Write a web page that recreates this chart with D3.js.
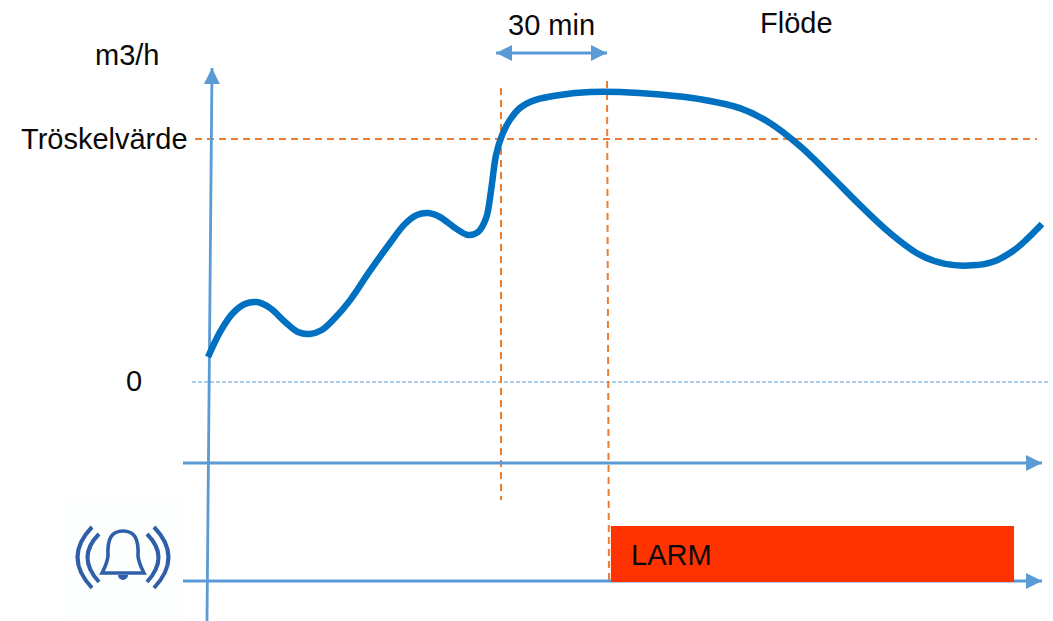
<!DOCTYPE html>
<html>
<head>
<meta charset="utf-8">
<title>Flöde</title>
<script src="https://cdn.jsdelivr.net/npm/d3@7"></script>
<style>
  html, body { margin: 0; padding: 0; background: #fff; }
  svg { display: block; }
  text { font-family: "Liberation Sans", Arial, sans-serif; font-size: 29px; fill: #0a0a0a; }
</style>
</head>
<body>
<div id="chart"></div>
<script>
// minutes relative to the start of the 30 min window, and flow where threshold = 100
var minutes = [-82.9, -79.5, -76.1, -72.5, -69.1, -65.4, -61.1, -57.5, -54.1, -50.7, -47, -42.7, -37.1, -31.4, -27.2, -23.8, -20.7, -17.3, -13, -9.3, -6.5, -4.2, -2.8, -1.4, 0.3, 2.5, 5.4, 9.6, 16.7, 25.2, 33.7, 45, 56.3, 67.6, 76.1, 84.6, 93.1, 101.6, 110.1, 118.6, 125.7, 133.5, 139.5, 145, 149, 153.1];
var flow = [10.3, 20.6, 28, 32.1, 32.9, 30.5, 24.7, 20.6, 19.8, 21.4, 26.3, 33.7, 45.7, 57.2, 65, 68.7, 69.5, 67.9, 63.4, 60.5, 61.7, 67.5, 79, 93.4, 101.6, 107.8, 112.8, 116, 118.1, 119.3, 119.3, 118.3, 116.4, 112.7, 106.6, 97.1, 85.2, 72.8, 61.3, 52.3, 48.6, 48, 49.6, 54, 59, 65];
var threshold = 100;
var zeroLevel = 0;
var windowMinutes = [0, 30];
var alarmWindow = [31.1, 145.2];
var labelFlow = "Flöde", labelUnit = "m3/h", labelThreshold = "Tröskelvärde", labelZero = "0", labelWindow = "30 min", labelAlarm = "LARM";

var width = 1053, height = 621;
var x = d3.scaleLinear().domain([0, 30]).range([501, 607]);
var y = d3.scaleLinear().domain([0, 100]).range([382, 139]);

var blue = "#5b9bd5", orange = "#ed7d31", curve = "#0070c0", red = "#ff3300", bellBlue = "#2f5fa8";

var svg = d3.select("#chart").append("svg")
    .attr("width", width)
    .attr("height", height);

// arrow heads
var defs = svg.append("defs");
function arrow(id, orient) {
  defs.append("marker")
      .attr("id", id)
      .attr("markerUnits", "userSpaceOnUse")
      .attr("viewBox", "0 0 16 16")
      .attr("markerWidth", 16).attr("markerHeight", 16)
      .attr("refX", 16).attr("refY", 8)
      .attr("orient", orient)
    .append("path")
      .attr("d", "M0,0L16,8L0,16Z")
      .attr("fill", blue);
}
arrow("head", "auto");
arrow("headStart", "auto-start-reverse");

// threshold and zero lines
svg.append("line")
    .attr("x1", 195).attr("x2", 1037)
    .attr("y1", y(threshold)).attr("y2", y(threshold))
    .attr("stroke", orange).attr("stroke-width", 2)
    .attr("stroke-dasharray", "7 5");
svg.append("line")
    .attr("x1", 192).attr("x2", 1050)
    .attr("y1", y(zeroLevel)).attr("y2", y(zeroLevel))
    .attr("stroke", blue).attr("stroke-width", 1.2)
    .attr("stroke-dasharray", "4 2");

// window markers
svg.append("line")
    .attr("x1", x(windowMinutes[0])).attr("x2", x(windowMinutes[0]))
    .attr("y1", 88).attr("y2", 500)
    .attr("stroke", orange).attr("stroke-width", 2)
    .attr("stroke-dasharray", "7 5");
svg.append("line")
    .attr("x1", x(windowMinutes[1])).attr("x2", x(windowMinutes[1]) + 2)
    .attr("y1", 81).attr("y2", 582)
    .attr("stroke", orange).attr("stroke-width", 2)
    .attr("stroke-dasharray", "7 5");

// axes, under the alarm bar
svg.append("line")
    .attr("x1", 207).attr("y1", 621).attr("x2", 212).attr("y2", 68)
    .attr("stroke", blue).attr("stroke-width", 2.8)
    .attr("marker-end", "url(#head)");
[463, 581].forEach(function(py) {
  svg.append("line")
      .attr("x1", 183).attr("y1", py).attr("x2", 1042).attr("y2", py)
      .attr("stroke", blue).attr("stroke-width", 2.8)
      .attr("marker-end", "url(#head)");
});

// alarm bar
svg.append("rect")
    .attr("x", x(alarmWindow[0]))
    .attr("y", 526)
    .attr("width", x(alarmWindow[1]) - x(alarmWindow[0]))
    .attr("height", 56)
    .attr("fill", red);

// 30 min arrow
svg.append("line")
    .attr("x1", x(windowMinutes[0]) - 5).attr("y1", 53)
    .attr("x2", x(windowMinutes[1])).attr("y2", 53)
    .attr("stroke", blue).attr("stroke-width", 2.8)
    .attr("marker-start", "url(#headStart)")
    .attr("marker-end", "url(#head)");

// the flow curve
var line = d3.line()
    .x(function(d) { return x(d[0]); })
    .y(function(d) { return y(d[1]); })
    .curve(d3.curveCatmullRom.alpha(0.5));
svg.append("path")
    .datum(d3.zip(minutes, flow))
    .attr("d", line)
    .attr("fill", "none")
    .attr("stroke", curve)
    .attr("stroke-width", 6.5);

// texts
function label(t, px, py) {
  svg.append("text").attr("x", px).attr("y", py).text(t);
}
label(labelWindow, 508, 35);
label(labelFlow, 760, 33);
label(labelUnit, 95, 65);
label(labelThreshold, 21, 149);
label(labelZero, 126, 391);
label(labelAlarm, 631, 565);

// bell icon
var bell = svg.append("g");
bell.append("rect")
    .attr("x", 63).attr("y", 498).attr("width", 119).attr("height", 119)
    .attr("fill", "#fdfefe");
bell.lower();
var arcs = ["M92,527Q63,557 92,588", "M99,534Q76,557 99,582", "M154,527Q183,557 154,588", "M147,534Q170,557 147,582"];
bell.selectAll("path.arc")
    .data(arcs)
  .enter().append("path")
    .attr("class", "arc")
    .attr("d", function(d) { return d; })
    .attr("fill", "none")
    .attr("stroke", bellBlue)
    .attr("stroke-width", 4);
bell.append("path")
    .attr("d", "M108,556C107,538 112,531 123,531C134,531 139,538 138,556C139,564 142,569 144,573L102,573C104,569 107,564 108,556Z")
    .attr("fill", "#fdfefe")
    .attr("stroke", bellBlue)
    .attr("stroke-width", 3.6);
bell.append("path")
    .attr("d", "M118,575A5,5 0 0 0 128,575Z")
    .attr("fill", bellBlue);
</script>
</body>
</html>
